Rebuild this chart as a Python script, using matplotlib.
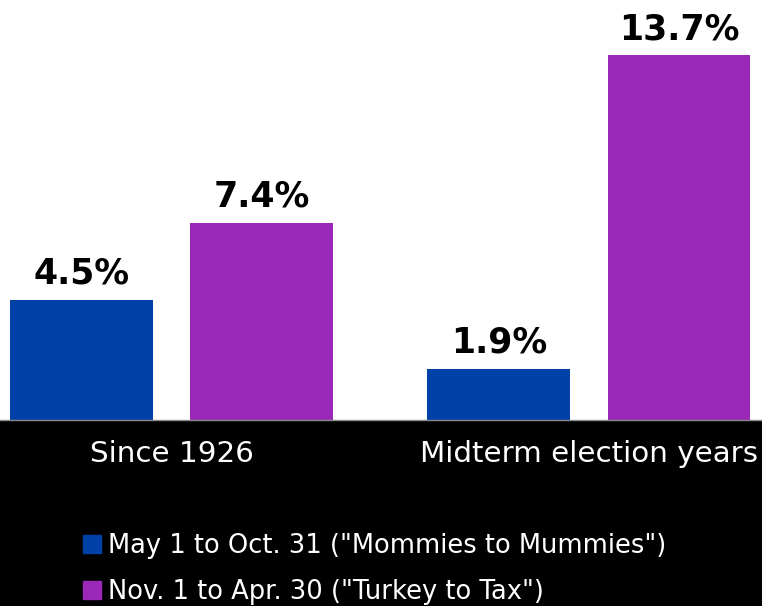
import matplotlib.pyplot as plt
from matplotlib.patches import Patch

plt.rcParams["font.family"] = ["DejaVu Sans"]

categories = ["Since 1926", "Midterm election years"]
series_names = ['May 1 to Oct. 31 ("Mommies to Mummies")',
                'Nov. 1 to Apr. 30 ("Turkey to Tax")']
summer = [4.5, 1.9]
winter = [7.4, 13.7]

BLUE = "#0041A8"
PURPLE = "#9A28B9"

fig = plt.figure(figsize=(7.62, 6.06), dpi=100, facecolor="black")
ax = fig.add_axes([0, (606 - 419.5) / 606, 1, 419.5 / 606])
ax.set_facecolor("white")

x = list(range(len(categories)))
width = 0.3425
off = 0.2156
b1 = ax.bar([i - off for i in x], summer, width, color=BLUE)
b2 = ax.bar([i + off for i in x], winter, width, color=PURPLE)

# value labels sit on their baseline a fixed gap above each bar
for bars, vals in ((b1, summer), (b2, winter)):
    for rect, v in zip(bars, vals):
        ax.annotate(f"{v:.1f}%", (rect.get_x() + rect.get_width() / 2, v),
                    xytext=(0, 11.5), textcoords="offset points",
                    ha="center", va="baseline", fontsize=25,
                    fontweight="bold", color="black")

# category names under each group, on the black band
for i, name in zip(x, categories):
    ax.annotate(name, (i, 0), xycoords=("data", "axes fraction"),
                xytext=(0, -30.6), textcoords="offset points",
                ha="center", va="baseline", fontsize=21.2, color="white",
                annotation_clip=False)

ax.set_xlim(-0.4108, 1.4144)
ax.set_ylim(0, 15.77)
ax.set_xticks([])
ax.set_yticks([])
for s in ("top", "left", "right"):
    ax.spines[s].set_visible(False)
ax.spines["bottom"].set_color("#8a8a8a")
ax.spines["bottom"].set_linewidth(1)

handles = [Patch(color=BLUE), Patch(color=PURPLE)]
fig.legend(handles, series_names, loc="upper left",
           bbox_to_anchor=(83 / 762, 1 - 533 / 606), frameon=False,
           fontsize=18.5, labelcolor="white", handlelength=0.7,
           handleheight=0.7, handletextpad=0.28, labelspacing=0.78,
           borderaxespad=0, borderpad=0)

fig.savefig("out.png", dpi=100, facecolor="black")
